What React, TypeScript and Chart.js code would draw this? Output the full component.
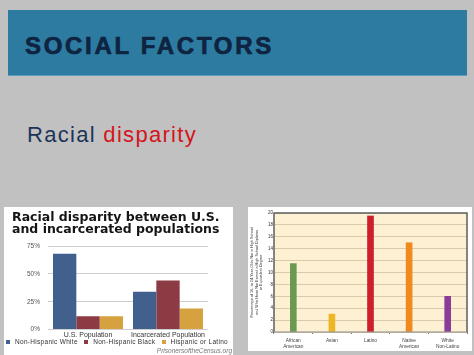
import React, { useEffect, useRef } from "react";
import { Chart, registerables } from "chart.js";

Chart.register(...registerables);

// ---- Left chart data ----
const leftTitle = ["Racial disparity between U.S.", "and incarcerated populations"];
const groupLabels = ["U.S. Population", "Incarcerated Population"];
const seriesNames = ["Non-Hispanic White", "Non-Hispanic Black", "Hispanic or Latino"];
const whiteValues = [68, 34];
const blackValues = [12, 44];
const hispanicValues = [12, 19];
const seriesColors = ["#42608E", "#8C3A43", "#D6A23F"];
const pctMax = 75;
const pctStep = 25;

// ---- Right chart data ----
const raceLabels = [["African", "American"], "Asian", "Latino", ["Native", "American"], ["White", "Non-Latino"]];
const dropoutValues = [11.5, 3, 19.5, 15, 6];
const raceColors = ["#6C9A52", "#EEB524", "#CD1F2C", "#F0891F", "#8B3C99"];
const rightMax = 20;
const rightStep = 2;
const rightAxisTitle = [
  "Percentage of 16- to 24-Year-Olds Not in High School",
  "and Who Have Not Earned a High School Diploma",
  "or Equivalent Degree",
];

const FONT = '"Liberation Sans", Arial, sans-serif';

export default function App() {
  const leftRef = useRef<HTMLCanvasElement | null>(null);
  const rightRef = useRef<HTMLCanvasElement | null>(null);

  useEffect(() => {
    const left = new Chart(leftRef.current as HTMLCanvasElement, {
      type: "bar",
      data: {
        labels: groupLabels,
        datasets: [
          { label: seriesNames[0], data: whiteValues, backgroundColor: seriesColors[0] },
          { label: seriesNames[1], data: blackValues, backgroundColor: seriesColors[1] },
          { label: seriesNames[2], data: hispanicValues, backgroundColor: seriesColors[2] },
        ],
      },
      options: {
        responsive: false,
        animation: false,
        layout: { padding: { left: 8, right: 25, top: 39, bottom: 17 } },
        datasets: { bar: { categoryPercentage: 0.875, barPercentage: 1.0 } },
        plugins: {
          legend: { display: false },
          tooltip: { enabled: false },
          title: { display: false },
        },
        scales: {
          x: {
            grid: { display: false, drawTicks: false, tickLength: 0 },
            border: { display: false },
            ticks: { color: "#333", font: { family: FONT, size: 7 }, padding: 1, maxRotation: 0 },
          },
          y: {
            min: 0,
            max: pctMax,
            afterFit: (s: any) => {
              s.width = 36;
            },
            ticks: {
              stepSize: pctStep,
              color: "#555",
              font: { family: FONT, size: 6.5 },
              padding: 8,
              callback: (v: any) => v + "%",
            },
            grid: { color: "#CFCFCF", drawTicks: false, lineWidth: 1 },
            border: { display: false },
          },
        },
      },
    });

    const creamPlugin = {
      id: "creamBg",
      beforeDraw(chart: any) {
        const { ctx, chartArea: a } = chart;
        ctx.save();
        ctx.fillStyle = "#FDF0D3";
        ctx.fillRect(a.left, a.top, a.right - a.left, a.bottom - a.top);
        ctx.restore();
      },
      afterDraw(chart: any) {
        const { ctx, chartArea: a } = chart;
        ctx.save();
        ctx.strokeStyle = "#5E5E5E";
        ctx.lineWidth = 1.5;
        ctx.beginPath();
        ctx.moveTo(a.left, a.bottom);
        ctx.lineTo(a.left, a.top);
        ctx.lineTo(a.right, a.top);
        ctx.lineTo(a.right, a.bottom);
        ctx.stroke();
        ctx.strokeStyle = "#8A8A8A";
        ctx.lineWidth = 1;
        ctx.beginPath();
        ctx.moveTo(a.left, a.bottom);
        ctx.lineTo(a.right, a.bottom);
        ctx.stroke();
        ctx.restore();
      },
    };

    const right = new Chart(rightRef.current as HTMLCanvasElement, {
      type: "bar",
      data: {
        labels: raceLabels as any,
        datasets: [
          { data: dropoutValues, backgroundColor: raceColors, barThickness: 6 },
        ],
      },
      options: {
        responsive: false,
        animation: false,
        layout: { padding: { left: 0, right: 5, top: 6, bottom: -3 } },
        plugins: { legend: { display: false }, tooltip: { enabled: false } },
        scales: {
          x: {
            grid: { display: true, drawOnChartArea: false, tickLength: 2, color: "#777", offset: true },
            border: { display: false },
            ticks: { color: "#444", font: { family: FONT, size: 4.8, lineHeight: 1.25 }, padding: 4, maxRotation: 0 },
          },
          y: {
            min: 0,
            max: rightMax,
            afterFit: (s: any) => {
              s.width = 26;
            },
            ticks: { stepSize: rightStep, color: "#333", font: { family: FONT, size: 4.5 }, padding: 1 },
            grid: { color: "#D8CCA8", drawTicks: false, lineWidth: 1 },
            border: { display: false },
            title: {
              display: true,
              text: rightAxisTitle,
              color: "#333",
              font: { family: FONT, size: 3.8, lineHeight: 1.15 },
              padding: { top: 2, bottom: 3 },
            },
          },
        },
      },
      plugins: [creamPlugin],
    });

    return () => {
      left.destroy();
      right.destroy();
    };
  }, []);

  return (
    <div
      style={{
        position: "absolute",
        left: 0,
        top: 0,
        width: 474,
        height: 355,
        background: "#C1C1C1",
        overflow: "hidden",
        fontFamily: FONT,
      }}
    >
      <div
        style={{
          position: "absolute",
          left: 8,
          top: 10,
          width: 459,
          height: 65,
          background: "#2D7BA0",
          borderBottom: "1px solid #5C9CBB",
        }}
      >
        <div
          style={{
            position: "absolute",
            left: 17,
            top: 24,
            fontSize: 24,
            lineHeight: "24px",
            fontWeight: 700,
            letterSpacing: 2.7,
            color: "#0E2440",
            WebkitTextStroke: "0.7px #0E2440",
            whiteSpace: "nowrap",
          }}
        >
          SOCIAL FACTORS
        </div>
      </div>

      <div
        style={{
          position: "absolute",
          left: 27,
          top: 124,
          fontSize: 22,
          lineHeight: "22px",
          letterSpacing: 1.3,
          whiteSpace: "nowrap",
        }}
      >
        <span style={{ color: "#1D3458" }}>Racial</span>{" "}
        <span style={{ color: "#D4141B" }}>disparity</span>
      </div>

      {/* Left panel */}
      <div style={{ position: "absolute", left: 4, top: 207, width: 229, height: 150, background: "#FFFFFF" }}>
        <canvas ref={leftRef} width={229} height={150} style={{ display: "block" }} />
        <div
          style={{
            position: "absolute",
            left: 8,
            top: 4,
            fontFamily: '"DejaVu Sans", Verdana, sans-serif',
            fontWeight: 700,
            fontSize: 12.5,
            lineHeight: "11.6px",
            color: "#151515",
            whiteSpace: "nowrap",
          }}
        >
          {leftTitle.map((t) => (
            <div key={t}>{t}</div>
          ))}
        </div>
        <div
          style={{
            position: "absolute",
            left: 2,
            top: 131,
            width: 222,
            display: "flex",
            justifyContent: "space-between",
            fontSize: 6.5,
            lineHeight: "8px",
            color: "#333",
            letterSpacing: 0.3,
          }}
        >
          {seriesNames.map((n, i) => (
            <div key={n} style={{ display: "flex", alignItems: "center", whiteSpace: "nowrap" }}>
              <span
                style={{ display: "inline-block", width: 4, height: 4, background: seriesColors[i], marginRight: 5 }}
              />
              {n}
            </div>
          ))}
        </div>
        <div
          style={{
            position: "absolute",
            right: 1,
            top: 140,
            fontSize: 6.5,
            fontStyle: "italic",
            color: "#777",
            whiteSpace: "nowrap",
          }}
        >
          PrisonersoftheCensus.org
        </div>
      </div>

      {/* Right panel */}
      <div
        style={{
          position: "absolute",
          left: 248,
          top: 207,
          width: 224,
          height: 144,
          background: "#FFFFFF",
        }}
      >
        <canvas ref={rightRef} width={224} height={144} style={{ display: "block" }} />
      </div>
    </div>
  );
}
